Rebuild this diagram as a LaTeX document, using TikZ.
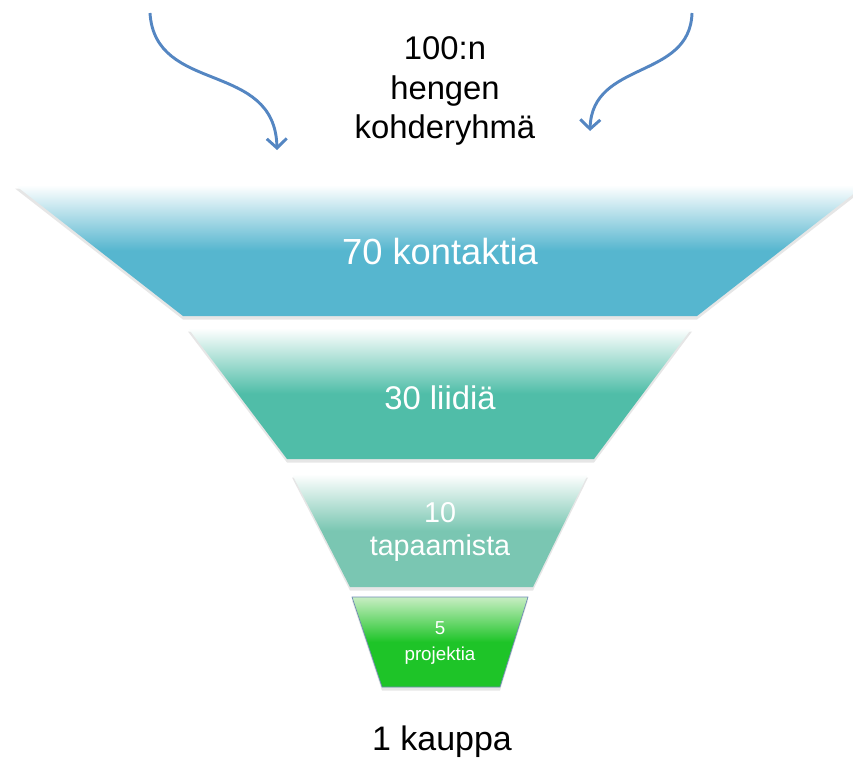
\documentclass[tikz,border=0pt]{standalone}
\usepackage{fontspec}
\setmainfont{Liberation Sans}
\usepackage{xcolor}
\usetikzlibrary{arrows.meta,shadows}
\definecolor{funnelblue}{RGB}{86,182,207}
\definecolor{funnelteal}{RGB}{80,189,168}
\definecolor{funnelmint}{RGB}{122,198,178}
\definecolor{funnelgreen}{RGB}{30,196,40}
\definecolor{funnelpale}{RGB}{200,238,195}
\definecolor{funneledge}{RGB}{110,140,180}
\definecolor{flowblue}{RGB}{84,134,194}
\tikzset{
    funnelband/.style={top color=white, bottom color=#1, middle color=#1,
        drop shadow={shadow xshift=0pt, shadow yshift=-3pt, opacity=0.2}},
    funneltip/.style={top color=funnelpale, bottom color=funnelgreen, middle color=funnelgreen,
        draw=funneledge, line width=0.6pt,
        drop shadow={shadow xshift=0pt, shadow yshift=-3pt, opacity=0.2}},
    funneltext/.style={text=white, align=center, inner sep=0pt},
    plaintext/.style={text=black, align=center, inner sep=0pt},
    flowarrow/.style={draw=flowblue, line width=2.5pt, -{Straight Barb[length=8pt,width=17pt]}}
}

\begin{document}
\begin{tikzpicture}[x=0.03cm, y=-0.03cm]
    \useasboundingbox (0,0) rectangle (853,762);

    % funnel bands
    \path[funnelband=funnelblue] (15,185) -- (865,185) -- (697,316) -- (183,316) -- cycle;
    \path[funnelband=funnelteal] (188,328) -- (692,328) -- (594,459) -- (287,459) -- cycle;
    \path[funnelband=funnelmint] (292,474) -- (588,474) -- (533,587) -- (350,587) -- cycle;
    \path[funneltip] (352,597) -- (528,597) -- (500,687) -- (382,687) -- cycle;

    \node[plaintext, font=\fontsize{28}{34}\selectfont] (target) at (445,91) {100:n\\hengen\\kohderyhmä};
    \node[funneltext, font=\fontsize{31}{37}\selectfont] (contacts) at (440,252) {70 kontaktia};
    \node[funneltext, font=\fontsize{28}{34}\selectfont] (leads) at (440,398) {30 liidiä};
    \node[funneltext, font=\fontsize{24.5}{28}\selectfont] (meetings) at (440,532) {10\\tapaamista};
    \node[funneltext, font=\fontsize{16}{22}\selectfont] (projects) at (440,643) {5\\projektia};
    \node[plaintext, font=\fontsize{29}{34}\selectfont] (deal) at (442,742) {1 kauppa};

    \coordinate (lfrom) at (150,13);
    \coordinate (lto) at (277,150);
    \coordinate (rfrom) at (692,13);
    \coordinate (rto) at (590,131);
    \draw[flowarrow] (lfrom) .. controls (155,95) and (275,60) .. (lto);
    \draw[flowarrow] (rfrom) .. controls (690,80) and (592,60) .. (rto);
\end{tikzpicture}
\end{document}
